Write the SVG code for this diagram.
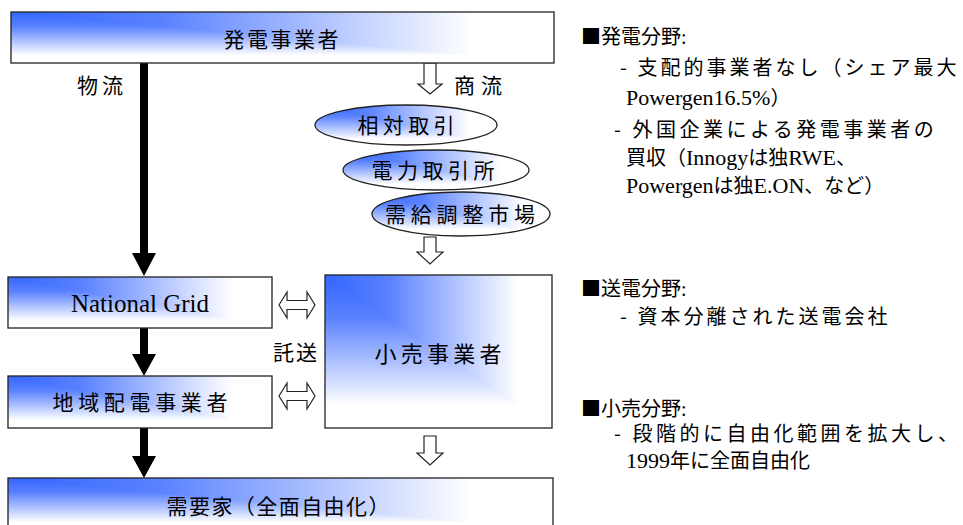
<svg xmlns="http://www.w3.org/2000/svg" width="963" height="525" viewBox="0 0 963 525">
<style>
.jp{font-family:"Noto Sans CJK JP","Noto Sans",sans-serif;fill:#000}
.tm{font-family:"Liberation Serif","Noto Sans CJK JP",serif;fill:#000}
.box{fill:none;stroke:#222;stroke-width:1.3}
.blk{fill:#000}
.hol{fill:#fff;stroke:#222;stroke-width:1.2;stroke-linejoin:miter}
</style>
<defs>
<linearGradient id="gh" x1="0" y1="0" x2="1" y2="0"><stop offset="0" stop-color="#3366FF"/><stop offset="0.28" stop-color="#5A82FF"/><stop offset="0.85" stop-color="#FFFFFF"/></linearGradient>
<linearGradient id="gv" x1="0" y1="0" x2="0" y2="1"><stop offset="0" stop-color="#3366FF"/><stop offset="0.28" stop-color="#5A82FF"/><stop offset="0.85" stop-color="#FFFFFF"/></linearGradient>
<clipPath id="cE1"><ellipse cx="406" cy="125" rx="91" ry="20"/></clipPath>
<clipPath id="cE2"><ellipse cx="436" cy="170" rx="93" ry="20"/></clipPath>
<clipPath id="cE3"><ellipse cx="461" cy="214" rx="89" ry="22"/></clipPath>
</defs>
<rect width="963" height="525" fill="#fff"/>

<g id="connectors">
<path class="blk" d="M140,63 H148 V253 H156 L144,276 L132,253 H140 Z"/>
<path class="blk" d="M140,328 H148 V354 H156 L144,376 L132,354 H140 Z"/>
<path class="blk" d="M140,428 H148 V456 H156 L144,478 L132,456 H140 Z"/>
<path class="hol" d="M424,63 H436 V84 H442 L430,94 L418,84 H424 Z"/>
<path class="hol" d="M424,237 H436 V252 H443 L430,264 L417,252 H424 Z"/>
<path class="hol" d="M424,436 H436 V453 H443 L430,465 L417,453 H424 Z"/>
<path class="hol" d="M279,305 L287,292 V300.5 H307 V292 L315,305 L307,318 V309.5 H287 V318 Z"/>
<path class="hol" d="M279,396 L287,383 V391.5 H307 V383 L315,396 L307,409 V400.5 H287 V409 Z"/>
<text class="jp" x="100" y="93" font-size="21" text-anchor="middle" textLength="46" lengthAdjust="spacing">物流</text>
<text class="jp" x="478" y="93" font-size="21" text-anchor="middle" textLength="48" lengthAdjust="spacing">商流</text>
<text class="jp" x="295" y="360" font-size="21" text-anchor="middle" textLength="44" lengthAdjust="spacing">託送</text>
</g>

<g id="n-generator">
<rect x="11" y="12" width="543" height="51" fill="url(#gv)"/>
<polygon points="11,12 554,12 554,63" fill="url(#gh)"/>
<rect class="box" x="11" y="12" width="543" height="51"/>
<text class="jp" x="281" y="47" font-size="21" text-anchor="middle" textLength="115" lengthAdjust="spacing">発電事業者</text>
</g>

<g id="n-bilateral">
<g clip-path="url(#cE1)"><rect x="315" y="105" width="182" height="40" fill="url(#gv)"/><polygon points="315,105 497,105 497,145" fill="url(#gh)"/></g>
<ellipse class="box" cx="406" cy="125" rx="91" ry="20"/>
<text class="jp" x="406" y="133" font-size="21" text-anchor="middle" textLength="97" lengthAdjust="spacing">相対取引</text>
</g>

<g id="n-exchange">
<g clip-path="url(#cE2)"><rect x="343" y="150" width="186" height="40" fill="url(#gv)"/><polygon points="343,150 529,150 529,190" fill="url(#gh)"/></g>
<ellipse class="box" cx="436" cy="170" rx="93" ry="20"/>
<text class="jp" x="433" y="178" font-size="21" text-anchor="middle" textLength="123" lengthAdjust="spacing">電力取引所</text>
</g>

<g id="n-balancing">
<g clip-path="url(#cE3)"><rect x="372" y="192" width="178" height="44" fill="url(#gv)"/><polygon points="372,192 550,192 550,236" fill="url(#gh)"/></g>
<ellipse class="box" cx="461" cy="214" rx="89" ry="22"/>
<text class="jp" x="460" y="222" font-size="21" text-anchor="middle" textLength="150" lengthAdjust="spacing">需給調整市場</text>
</g>

<g id="n-nationalgrid">
<rect x="8" y="277" width="264" height="51" fill="url(#gv)"/>
<polygon points="8,277 272,277 272,328" fill="url(#gh)"/>
<rect class="box" x="8" y="277" width="264" height="51"/>
<text class="tm" x="140" y="312" font-size="25" text-anchor="middle">National Grid</text>
</g>

<g id="n-distribution">
<rect x="8" y="376" width="264" height="52" fill="url(#gv)"/>
<polygon points="8,376 272,376 272,428" fill="url(#gh)"/>
<rect class="box" x="8" y="376" width="264" height="52"/>
<text class="jp" x="140" y="410" font-size="21" text-anchor="middle" textLength="175" lengthAdjust="spacing">地域配電事業者</text>
</g>

<g id="n-retail">
<rect x="325" y="275" width="227" height="153" fill="url(#gv)"/>
<polygon points="325,275 552,275 552,428" fill="url(#gh)"/>
<rect class="box" x="325" y="275" width="227" height="153"/>
<text class="jp" x="438" y="362" font-size="22" text-anchor="middle" textLength="127" lengthAdjust="spacing">小売事業者</text>
</g>

<g id="n-consumer">
<rect x="8" y="478" width="545" height="52" fill="url(#gv)"/>
<polygon points="8,478 553,478 553,530" fill="url(#gh)"/>
<rect class="box" x="8" y="478" width="545" height="52"/>
<text class="jp" x="278" y="514" font-size="21" text-anchor="middle" textLength="223" lengthAdjust="spacing">需要家（全面自由化）</text>
</g>

<g id="notes" class="jp" font-size="20">
<text x="581" y="44">■発電分野<tspan class="tm">:</tspan></text>
<text x="620" y="75" letter-spacing="3">- 支配的事業者なし（シェア最大</text>
<text x="626" y="105"><tspan class="tm" font-size="22">Powergen16.5%</tspan>）</text>
<text x="614" y="137" letter-spacing="3.5">- 外国企業による発電事業者の</text>
<text x="626" y="165">買収（<tspan class="tm" font-size="22">Innogy</tspan>は独<tspan class="tm" font-size="22">RWE</tspan>、</text>
<text x="626" y="193"><tspan class="tm" font-size="22">Powergen</tspan>は独<tspan class="tm" font-size="22">E.ON</tspan>、など）</text>
<text x="581" y="296">■送電分野<tspan class="tm">:</tspan></text>
<text x="620" y="324" letter-spacing="3">- 資本分離された送電会社</text>
<text x="581" y="416">■小売分野<tspan class="tm">:</tspan></text>
<text x="614" y="441" letter-spacing="3.5">- 段階的に自由化範囲を拡大し、</text>
<text x="626" y="468"><tspan class="tm" font-size="22">1999</tspan>年に全面自由化</text>
</g>
</svg>
